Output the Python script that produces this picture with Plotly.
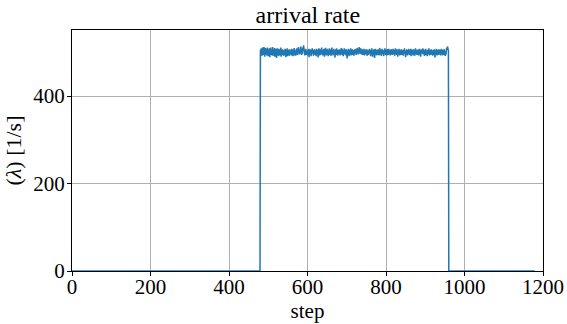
import plotly.graph_objects as go

title_text = "arrival rate"
x_label = "step"
y_label = "(<i>λ</i>) [1/s]"

n_pre = 480      # steps before the plateau (value 0)
n_post = 220     # steps after the plateau (value 0)

plateau = [
    506,496,509,501,492,511,500,494,507,512,498,490,504,510,495,508,493,502,511,499,
    491,506,497,509,489,503,511,494,501,507,493,512,500,492,506,496,510,490,501,508,
    497,487,504,509,494,502,491,508,497,506,493,501,511,490,504,495,507,494,502,492,
    506,497,493,508,500,489,504,495,509,491,502,494,506,497,492,507,500,495,504,493,
    508,494,502,491,506,497,510,493,501,504,492,507,495,509,502,494,506,512,499,507,
    495,509,502,513,506,494,508,497,511,503,516,500,509,493,506,497,508,494,503,499,
    493,506,497,508,489,502,495,507,500,491,504,494,509,497,506,492,502,495,507,500,
    494,504,491,508,500,495,506,488,502,509,497,493,507,500,494,504,511,497,506,493,
    502,495,508,490,504,497,510,500,493,506,495,508,502,491,504,497,509,494,506,500,
    492,504,511,497,506,493,502,508,495,504,488,500,507,494,509,497,504,492,506,500,
    495,507,500,493,506,497,510,502,494,508,500,491,504,497,509,495,506,500,493,507,
    497,486,504,494,508,500,491,506,495,502,509,493,504,497,507,494,500,506,492,502,
    506,497,508,502,494,507,500,510,504,495,508,502,512,497,506,500,509,495,504,507,
    500,494,506,497,508,493,504,500,495,507,497,502,492,506,500,494,504,497,508,495,
    502,491,506,495,509,500,490,504,494,507,497,487,502,508,495,504,493,506,500,494,
    507,497,504,493,510,500,495,506,492,502,508,495,504,500,491,506,497,509,502,494,
    506,500,493,507,497,504,494,508,502,495,506,493,500,507,497,504,494,502,508,500,
    495,506,492,502,509,497,504,494,507,500,490,504,495,508,500,493,506,497,502,494,
    507,500,494,504,492,506,497,509,502,495,489,504,494,507,500,493,506,497,508,502,
    494,504,497,508,491,502,495,506,500,493,507,497,504,492,502,509,495,506,500,494,
    504,497,507,493,502,495,508,500,490,504,494,507,497,502,509,495,506,500,492,504,
    497,508,494,504,500,491,506,495,502,509,497,493,506,500,494,507,502,495,504,492,
    506,500,494,507,497,488,504,495,508,500,493,506,497,502,494,507,500,495,506,493,
    502,508,495,504,493,506,500,494,507,497,504,492,502,495,509,506,511,513,507,503,
]

rate = [0] * n_pre + plateau + [0] * n_post
steps = list(range(len(rate)))

x_ticks = [0, 200, 400, 600, 800, 1000, 1200]
y_ticks = [0, 200, 400]

font_family = "Liberation Serif"

fig = go.Figure()
fig.add_trace(go.Scatter(
    x=steps, y=rate, mode="lines",
    line=dict(color="#1f77b4", width=1.5),
    showlegend=False,
))

axis_common = dict(
    showline=True, linecolor="black", linewidth=1, mirror=True,
    showgrid=True, gridcolor="#b0b0b0", gridwidth=1,
    ticks="outside", ticklen=4, tickwidth=1, tickcolor="black",
    zeroline=False, automargin=False,
    tickfont=dict(family=font_family, size=21, color="black"),
)

fig.update_layout(
    width=567, height=324,
    margin=dict(l=72, r=24, t=30, b=53, autoexpand=False),
    paper_bgcolor="white", plot_bgcolor="white",
    font=dict(family=font_family, color="black"),
    title=dict(text=title_text, x=0.543, xref="container", xanchor="center",
               y=0.955, yref="container", yanchor="middle", automargin=False,
               font=dict(family=font_family, size=24, color="black")),
    xaxis=dict(range=[0, 1200], tickvals=x_ticks, ticklabelstandoff=-7,
               title=dict(text=x_label, standoff=0,
                          font=dict(family=font_family, size=21, color="black")),
               **axis_common),
    yaxis=dict(range=[0, 551], tickvals=y_ticks, ticklabelstandoff=-2,
               title=dict(text=y_label, standoff=5,
                          font=dict(family=font_family, size=22, color="black")),
               **axis_common),
)

fig.write_html("out.html")
